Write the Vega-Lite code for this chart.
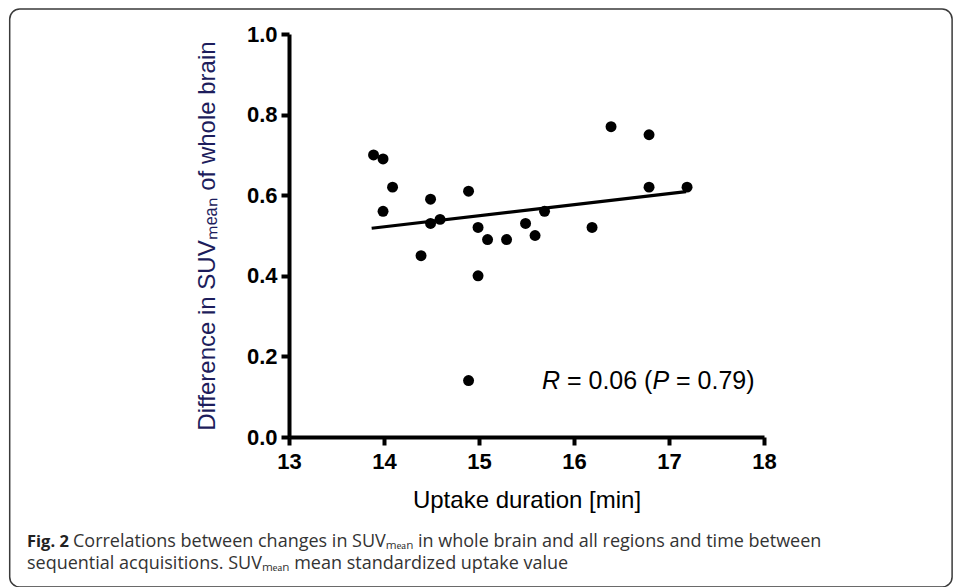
{
  "$schema": "https://vega.github.io/schema/vega-lite/v6.json",
  "width": 475,
  "height": 403,
  "padding": {"left": 8, "top": 8, "right": 6, "bottom": 0},
  "background": "white",
  "data": {"values": [{}]},
  "config": {
    "view": {"stroke": null},
    "axis": {"grid": false, "domainColor": "black", "tickColor": "black", "domainWidth": 4, "tickWidth": 4, "tickSize": 8, "labelFlush": false, "labelOverlap": false, "labelFont": "Liberation Sans", "labelFontWeight": "bold", "labelFontSize": 22, "labelColor": "black", "titleFont": "Liberation Sans", "titleFontWeight": "normal", "titleFontSize": 24}
  },
  "datasets": {
    "points": [
      {"duration": 13.89, "diff": 0.70},
      {"duration": 13.99, "diff": 0.69},
      {"duration": 14.09, "diff": 0.62},
      {"duration": 13.99, "diff": 0.56},
      {"duration": 14.49, "diff": 0.59},
      {"duration": 14.49, "diff": 0.53},
      {"duration": 14.59, "diff": 0.54},
      {"duration": 14.39, "diff": 0.45},
      {"duration": 14.89, "diff": 0.61},
      {"duration": 14.99, "diff": 0.52},
      {"duration": 15.09, "diff": 0.49},
      {"duration": 15.29, "diff": 0.49},
      {"duration": 14.99, "diff": 0.40},
      {"duration": 14.89, "diff": 0.14},
      {"duration": 15.49, "diff": 0.53},
      {"duration": 15.59, "diff": 0.50},
      {"duration": 15.69, "diff": 0.56},
      {"duration": 16.19, "diff": 0.52},
      {"duration": 16.39, "diff": 0.77},
      {"duration": 16.79, "diff": 0.75},
      {"duration": 16.79, "diff": 0.62},
      {"duration": 17.19, "diff": 0.62}
    ],
    "fit": [
      {"duration": 13.87, "diff": 0.518},
      {"duration": 17.18, "diff": 0.609}
    ]
  },
  "layer": [
    {
      "mark": {"type": "rect", "fill": null, "stroke": "#3a3a3a", "strokeWidth": 1.5, "cornerRadius": 10, "clip": false},
      "encoding": {
        "x": {"datum": 10.06, "type": "quantitative"},
        "x2": {"datum": 19.98},
        "y": {"datum": 1.062, "type": "quantitative"},
        "y2": {"datum": -0.372}
      }
    },
    {
      "data": {"name": "points"},
      "mark": {"type": "circle", "size": 120, "opacity": 1, "color": "black"},
      "encoding": {
        "x": {"field": "duration", "type": "quantitative", "scale": {"domain": [13, 18], "nice": false, "zero": false},
              "axis": {"values": [13, 14, 15, 16, 17, 18], "format": "d", "title": "Uptake duration [min]", "titleColor": "black", "labelPadding": 6, "titlePadding": 16}},
        "y": {"field": "diff", "type": "quantitative", "scale": {"domain": [0, 1], "nice": false},
              "axis": {"values": [0, 0.2, 0.4, 0.6, 0.8, 1.0], "format": ".1f", "title": "Difference in SUVₘₑₐₙ of whole brain", "titleColor": "#1d1d5c", "labelPadding": 4, "titlePadding": 27}}
      }
    },
    {
      "data": {"name": "fit"},
      "mark": {"type": "line", "color": "black", "strokeWidth": 3.2},
      "encoding": {
        "x": {"field": "duration", "type": "quantitative"},
        "y": {"field": "diff", "type": "quantitative"}
      }
    },
    {
      "mark": {"type": "text", "text": "R", "font": "Liberation Sans", "fontSize": 25, "fontStyle": "italic", "align": "left", "baseline": "alphabetic", "color": "black"},
      "encoding": {"x": {"datum": 15.663, "type": "quantitative"}, "y": {"datum": 0.119, "type": "quantitative"}}
    },
    {
      "mark": {"type": "text", "text": "= 0.06 (", "font": "Liberation Sans", "fontSize": 25, "align": "left", "baseline": "alphabetic", "color": "black"},
      "encoding": {"x": {"datum": 15.926, "type": "quantitative"}, "y": {"datum": 0.119, "type": "quantitative"}}
    },
    {
      "mark": {"type": "text", "text": "P", "font": "Liberation Sans", "fontSize": 25, "fontStyle": "italic", "align": "left", "baseline": "alphabetic", "color": "black"},
      "encoding": {"x": {"datum": 16.826, "type": "quantitative"}, "y": {"datum": 0.119, "type": "quantitative"}}
    },
    {
      "mark": {"type": "text", "text": "= 0.79)", "font": "Liberation Sans", "fontSize": 25, "align": "left", "baseline": "alphabetic", "color": "black"},
      "encoding": {"x": {"datum": 17.074, "type": "quantitative"}, "y": {"datum": 0.119, "type": "quantitative"}}
    },
    {
      "mark": {"type": "text", "text": "Fig. 2", "font": "Open Sans", "fontSize": 16.5, "fontWeight": "bold", "align": "left", "baseline": "alphabetic", "color": "#222222", "clip": false},
      "encoding": {"x": {"datum": 10.242, "type": "quantitative"}, "y": {"datum": -0.273, "type": "quantitative"}}
    },
    {
      "mark": {"type": "text", "text": "Correlations between changes in SUVₘₑₐₙ in whole brain and all regions and time between", "font": "Open Sans", "fontSize": 18, "align": "left", "baseline": "alphabetic", "color": "#333333", "clip": false},
      "encoding": {"x": {"datum": 10.726, "type": "quantitative"}, "y": {"datum": -0.273, "type": "quantitative"}}
    },
    {
      "mark": {"type": "text", "text": "sequential acquisitions. SUVₘₑₐₙ mean standardized uptake value", "font": "Open Sans", "fontSize": 18, "align": "left", "baseline": "alphabetic", "color": "#333333", "clip": false},
      "encoding": {"x": {"datum": 10.242, "type": "quantitative"}, "y": {"datum": -0.3275, "type": "quantitative"}}
    }
  ]
}
